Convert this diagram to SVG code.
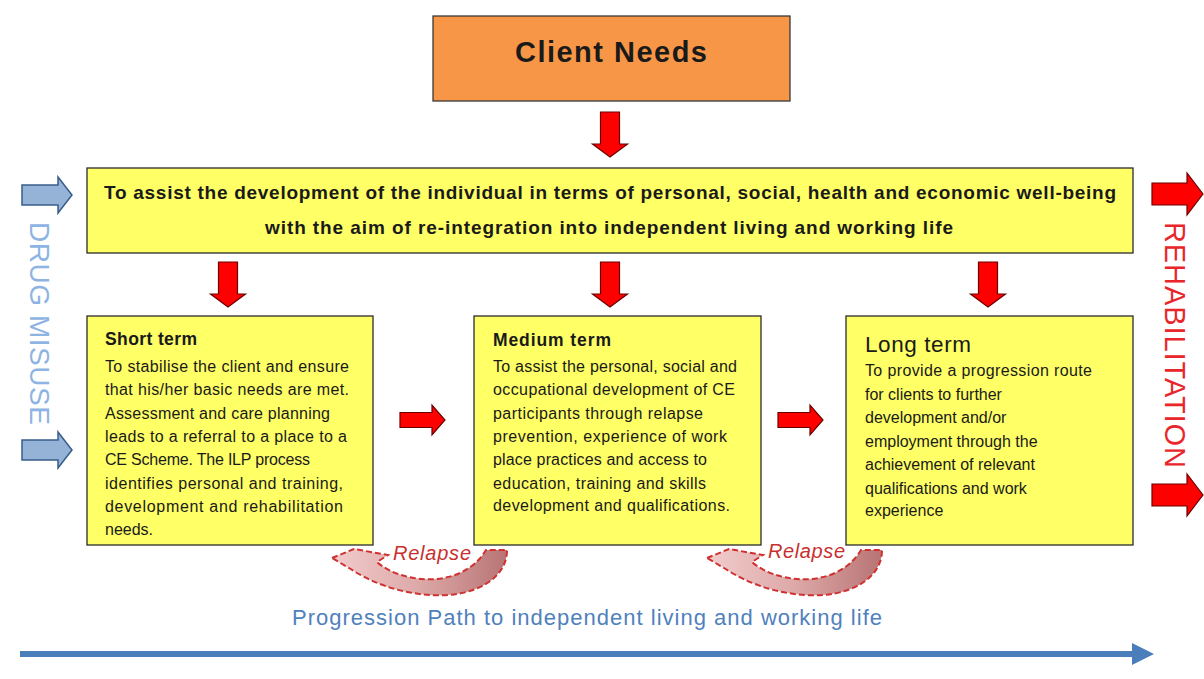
<svg xmlns="http://www.w3.org/2000/svg" width="1204" height="679" viewBox="0 0 1204 679">
  <style>
    .box { fill: #FFFF66; stroke: #2b2b2b; stroke-width: 1.3; }
    .t { font-family: "Liberation Sans", Arial, sans-serif; fill: #1a1a1a; }
    .body { font-size: 16px; }
    .ttl { font-size: 17.5px; font-weight: bold; }
    .aim { font-size: 19px; font-weight: bold; }
    .red { fill: #FF0000; stroke: #6b0000; stroke-width: 1.2; }
    .blue { fill: #95B3D7; stroke: #385D8A; stroke-width: 1.5; }
    .relapse { fill: url(#relgrad); stroke: #D03030; stroke-width: 2; stroke-dasharray: 6 3; }
    .rtxt { font-family: "Liberation Sans", Arial, sans-serif; font-style: italic; font-size: 20px; fill: #C8302E; }
  </style>
  <defs>
    <linearGradient id="relgrad" x1="0" y1="0" x2="1" y2="0">
      <stop offset="0" stop-color="#F2CCCC"/>
      <stop offset="0.5" stop-color="#DDA8A8"/>
      <stop offset="1" stop-color="#B87474"/>
    </linearGradient>
    <path id="downArrow" d="M -9.5 0 H 9.5 V 32 H 17.5 L 0 45 L -17.5 32 H -9.5 Z"/>
    <path id="rightArrow" d="M 0 -7.5 H 32 V -15 L 45 0 L 32 15 V 7.5 H 0 Z"/>
    <path id="edgeArrow" d="M 0 -11 H 35 V -21 L 51 0 L 35 21 V 11 H 0 Z"/>
    <path id="blueArrow" d="M 0 -10 H 36 V -18 L 50 0 L 36 18 V 10 H 0 Z"/>
    <path id="relapseShape" d="M 332 558 L 354 549 L 388 555 L 377 562 C 402 584, 462 590, 486 550 L 507 550 C 507 580, 472 598, 430 595 C 398 593, 370 582, 349 568 Z"/>
  </defs>

  <g id="client-needs">
    <rect x="433" y="16" width="357" height="85" fill="#F79646" stroke="#3a3a3a" stroke-width="1.3"/>
    <text class="t" x="611" y="62" text-anchor="middle" font-size="29" font-weight="bold" textLength="192">Client Needs</text>
  </g>

  <g id="aim">
    <rect class="box" x="87" y="168" width="1046" height="85"/>
    <text class="t aim" x="104" y="199" textLength="1012">To assist the development of the individual in terms of personal, social, health and economic well-being</text>
    <text class="t aim" x="265" y="234" textLength="688">with the aim of re-integration into independent living and working life</text>
  </g>

  <g id="short-term">
    <rect class="box" x="87" y="316" width="286" height="229"/>
    <text class="t ttl" x="105" y="345" textLength="92">Short term</text>
    <g class="t body">
      <text x="105" y="371.5" textLength="244">To stabilise the client and ensure</text>
      <text x="105" y="395" textLength="244">that his/her basic needs are met.</text>
      <text x="105" y="418.5" textLength="225">Assessment and care planning</text>
      <text x="105" y="442" textLength="242">leads to a referral to a place to a</text>
      <text x="105" y="465" textLength="205">CE Scheme. The ILP process</text>
      <text x="105" y="488.5" textLength="238">identifies personal and training,</text>
      <text x="105" y="512" textLength="238">development and rehabilitation</text>
      <text x="105" y="535">needs.</text>
    </g>
  </g>

  <g id="medium-term">
    <rect class="box" x="474" y="316" width="287" height="229"/>
    <text class="t ttl" x="493" y="346" textLength="118">Medium term</text>
    <g class="t body">
      <text x="493" y="371.5" textLength="244">To assist the personal, social and</text>
      <text x="493" y="395" textLength="242">occupational development of CE</text>
      <text x="493" y="418.5" textLength="210">participants through relapse</text>
      <text x="493" y="442" textLength="234">prevention, experience of work</text>
      <text x="493" y="465" textLength="214">place practices and access to</text>
      <text x="493" y="488.5" textLength="213">education, training and skills</text>
      <text x="493" y="511" textLength="237">development and qualifications.</text>
    </g>
  </g>

  <g id="long-term">
    <rect class="box" x="846" y="316" width="287" height="229"/>
    <text class="t" x="865" y="352" font-size="22.5" textLength="106">Long term</text>
    <g class="t body">
      <text x="865" y="376" textLength="227">To provide a progression route</text>
      <text x="865" y="399.5">for clients to further</text>
      <text x="865" y="423">development and/or</text>
      <text x="865" y="446.5">employment through the</text>
      <text x="865" y="470">achievement of relevant</text>
      <text x="865" y="493.5">qualifications and work</text>
      <text x="865" y="516">experience</text>
    </g>
  </g>

  <g id="drug-misuse">
    <text transform="translate(30,222) rotate(90)" font-family="'Liberation Sans', Arial, sans-serif" font-size="28" fill="#8EB4E3" textLength="203">DRUG MISUSE</text>
  </g>

  <g id="rehabilitation">
    <text transform="translate(1165,222) rotate(90)" font-family="'Liberation Sans', Arial, sans-serif" font-size="29" fill="#E8262B" textLength="246">REHABILITATION</text>
  </g>

  <g id="progression-label">
    <text x="292" y="625" font-family="'Liberation Sans', Arial, sans-serif" font-size="22" fill="#4F81BD" textLength="590">Progression Path to independent living and working life</text>
  </g>

  <g id="connectors">
    <use href="#downArrow" class="red" transform="translate(610,112)"/>
    <use href="#downArrow" class="red" transform="translate(228,262)"/>
    <use href="#downArrow" class="red" transform="translate(610,262)"/>
    <use href="#downArrow" class="red" transform="translate(988,262)"/>
    <use href="#rightArrow" class="red" transform="translate(400,420)"/>
    <use href="#rightArrow" class="red" transform="translate(778,420)"/>
    <use href="#edgeArrow" class="red" transform="translate(1152,194)"/>
    <use href="#edgeArrow" class="red" transform="translate(1152,495)"/>
    <use href="#blueArrow" class="blue" transform="translate(22,195)"/>
    <use href="#blueArrow" class="blue" transform="translate(22,450)"/>
    <g id="relapse-1">
      <use href="#relapseShape" class="relapse"/>
      <text class="rtxt" x="393" y="560" textLength="78">Relapse</text>
    </g>
    <g id="relapse-2">
      <use href="#relapseShape" class="relapse" transform="translate(375,0)"/>
      <text class="rtxt" x="768" y="558" textLength="77">Relapse</text>
    </g>
    <g id="progression-arrow">
      <line x1="20" y1="654" x2="1134" y2="654" stroke="#4A7EBB" stroke-width="6"/>
      <path d="M 1132 643 L 1154 654 L 1132 665 Z" fill="#4A7EBB"/>
    </g>
  </g>
</svg>
